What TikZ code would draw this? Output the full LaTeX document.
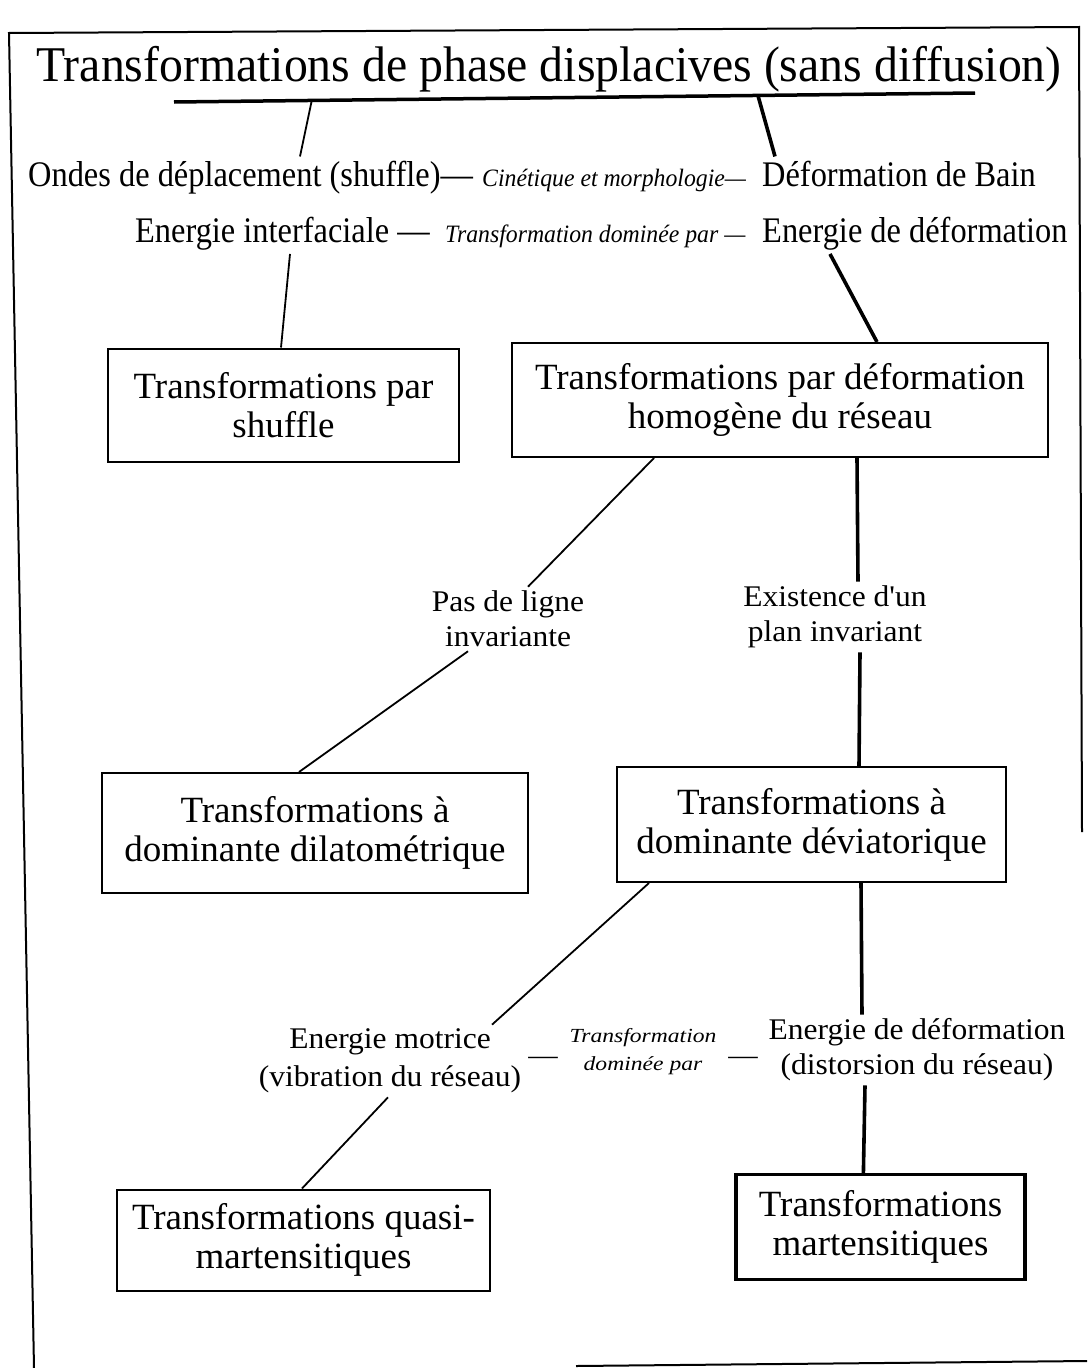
\documentclass[tikz,border=0pt]{standalone}
\usepackage{fontspec}
\setmainfont{Liberation Serif}
\newfontfamily\titlefont[FakeStretch=0.955]{Liberation Serif}
\newfontfamily\rowfont[FakeStretch=0.9]{Liberation Serif}
\newfontfamily\rowitfont[FakeStretch=0.95]{Liberation Serif}
\newfontfamily\boxfont{Liberation Serif}
\newfontfamily\labfont[FakeStretch=1.05]{Liberation Serif}
\newfontfamily\labitfont[FakeStretch=1.18]{Liberation Serif}
\usetikzlibrary{calc}
\begin{document}
\begin{tikzpicture}[x=1pt,y=-1pt,
  titletxt/.style={font=\titlefont\fontsize{50}{56}\selectfont, inner sep=0pt},
  rowtxt/.style={font=\rowfont\fontsize{36}{40}\selectfont, inner sep=4pt, anchor=base west},
  rowit/.style={font=\rowitfont\itshape\fontsize{25}{30}\selectfont, inner sep=4pt, anchor=base west},
  boxnode/.style={draw, line width=2pt, align=center, font=\boxfont\fontsize{37}{39}\selectfont, inner sep=0pt},
  labtxt/.style={align=center, font=\labfont\fontsize{30}{35}\selectfont, inner sep=4pt},
  labit/.style={align=center, font=\labitfont\itshape\fontsize{20}{28}\selectfont, inner sep=4pt},
  dashtxt/.style={font=\labfont\fontsize{28}{35}\selectfont, inner sep=0pt, anchor=base},
  thinln/.style={line width=1.8pt},
  thickln/.style={line width=3.6pt},
  frameln/.style={line width=2pt}
]
\useasboundingbox (0,0) rectangle (1087,1368);
\fill[white] (0,0) rectangle (1087,1368);

% frame
\draw[frameln] (34,1368) -- (9,33) -- (1079,27) -- (1082,832);
\draw[frameln] (576,1366) -- (1087,1361);

% title
\node[titletxt, anchor=base] (title) at (549,81) {Transformations de phase displacives (sans diffusion)};
\coordinate (ulL) at (174,102);
\coordinate (ulR) at (975,93);
\draw[line width=3.5pt] (ulL) -- (ulR);
\coordinate (tL) at ($(ulL)!0.172!(ulR)$);
\coordinate (tR) at ($(ulL)!0.729!(ulR)$);

% rows
\node[rowtxt] (ondes) at (24,186) {Ondes de déplacement (shuffle)—};
\node[rowit] (cin) at (478,186) {Cinétique et morphologie—};
\node[rowtxt] (bain) at (758,186) {Déformation de Bain};
\node[rowtxt] (interf) at (131,242) {Energie interfaciale —};
\node[rowit] (domin) at (441,242) {Transformation dominée par —};
\node[rowtxt] (energ) at (758,242) {Energie de déformation};

% boxes
\node[boxnode, minimum width=351pt, minimum height=113pt] (box1) at (283.5,405) {Transformations par\\shuffle};
\node[boxnode, minimum width=536pt, minimum height=114pt] (box2) at (780,400) {Transformations par déformation\\homogène du réseau};
\node[boxnode, minimum width=426pt, minimum height=120pt] (box3) at (315,833) {Transformations à\\dominante dilatométrique};
\node[boxnode, minimum width=389pt, minimum height=115pt] (box4) at (811.5,824.5) {Transformations à\\dominante déviatorique};
\node[boxnode, minimum width=373pt, minimum height=101pt] (box5) at (303.5,1240) {Transformations quasi-\\martensitiques};
\node[boxnode, line width=3.2pt, minimum width=289pt, minimum height=105pt] (box6) at (880.5,1227) {Transformations\\martensitiques};

% labels
\node[labtxt] (pas) at (508,619) {Pas de ligne\\invariante};
\node[labtxt] (exist) at (835,617) {Existence d'un\\plan invariant};
\node[labtxt, font=\labfont\fontsize{30}{38}\selectfont] (motr) at (390,1061) {Energie motrice\\(vibration du réseau)};
\node[labit] (domi2) at (643,1052) {Transformation\\dominée par};
\node[labtxt] (defo) at (917,1050) {Energie de déformation\\(distorsion du réseau)};
\node[dashtxt] (d1) at (543,1064) {—};
\node[dashtxt] (d2) at (743,1064) {—};

% connectors
\draw[thinln] (tL) -- ([xshift=276pt]ondes.north west);
\draw[thickln] (tR) -- ([xshift=17pt]bain.north west);
\draw[thinln] ([xshift=159pt]interf.south west) -- ([xshift=174pt]box1.north west);
\draw[thickln] ([xshift=72pt]energ.south west) -- ([xshift=366pt]box2.north west);
\draw[thinln] ([xshift=143pt]box2.south west) -- ([xshift=20pt]pas.north);
\draw[thinln] ([xshift=-40pt]pas.south) -- ([xshift=198pt]box3.north west);
\draw[thickln] ([xshift=346pt]box2.south west) -- ([xshift=23pt]exist.north);
\draw[thickln] ([xshift=25pt]exist.south) -- ([xshift=243pt]box4.north west);
\draw[thinln] ([xshift=33pt]box4.south west) -- ([xshift=102pt]motr.north);
\draw[thickln] ([xshift=245pt]box4.south west) -- ([xshift=-55pt]defo.north);
\draw[thinln] ([xshift=-2pt]motr.south) -- ([xshift=186pt]box5.north west);
\draw[thickln] ([xshift=-52pt]defo.south) -- ([xshift=129pt]box6.north west);
\end{tikzpicture}
\end{document}
